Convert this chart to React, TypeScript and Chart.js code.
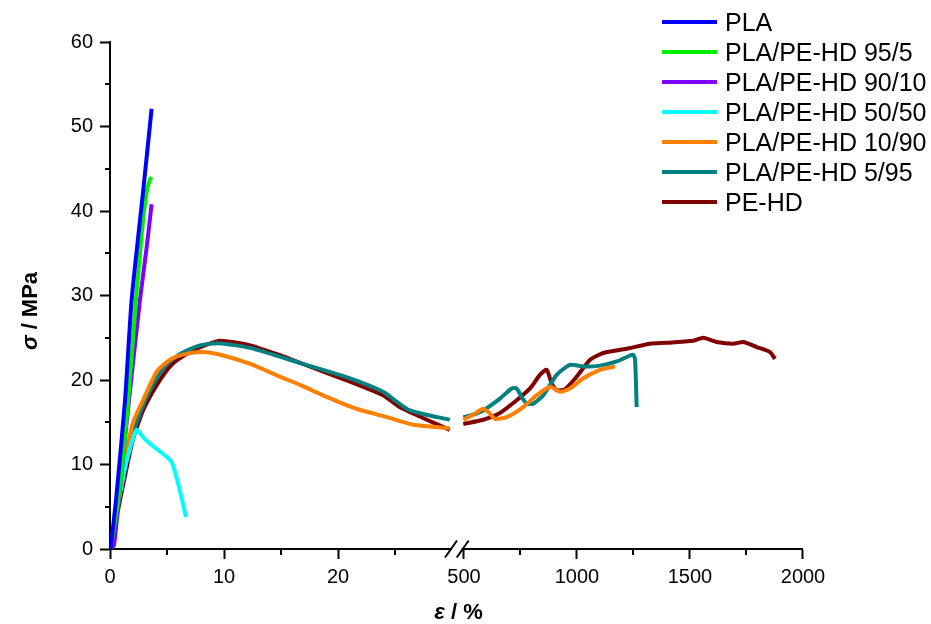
import React, { useEffect, useRef } from "react";
import { Chart, registerables } from "chart.js";

Chart.register(...registerables);

const FONT = "'Liberation Sans', Arial, Helvetica, sans-serif";

// ---- series ----
const seriesNames = [
  "PLA",
  "PLA/PE-HD 95/5",
  "PLA/PE-HD 90/10",
  "PLA/PE-HD 50/50",
  "PLA/PE-HD 10/90",
  "PLA/PE-HD 5/95",
  "PE-HD",
];
const seriesColors = ["#0000ff", "#00ee00", "#8000ff", "#00ffff", "#ff8000", "#008080", "#800000"];

// ---- left segment (strain 0–30 %) ----
const plaStrain = [0.05, 0.53, 1.32, 1.9, 2.92, 3.65];
const plaStress = [0, 5.8, 17.6, 29.5, 42.5, 52.1];

const pe95Strain = [0.05, 0.73, 1.6, 2.28, 2.87, 3.22, 3.51, 3.65];
const pe95Stress = [0, 5.8, 17.6, 29.5, 38.5, 42.3, 43.75, 44.0];

const pe90Strain = [0.1, 0.35, 0.6, 1.5, 2.63, 3.2, 3.65];
const pe90Stress = [0, 0.5, 3.5, 15.5, 29.5, 35.5, 40.8];

const pe50Strain = [0, 0.6, 1.3, 2.0, 2.34, 3.0, 3.65, 5.4, 6.67];
const pe50Stress = [0, 4.5, 9.5, 13.0, 14.1, 13.1, 12.3, 10.3, 3.8];

const pe10Strain = [0, 0.5, 1.0, 2.0, 2.9, 4.1, 5.26, 6.4, 7.9, 9.5, 12.3, 14.9, 16.7, 19.0, 21.6, 24.3, 26.6, 29.8];
const pe10Stress = [0, 4.0, 8.3, 14.9, 17.6, 21.0, 22.4, 23.0, 23.3, 23.05, 21.9, 20.4, 19.4, 18.0, 16.6, 15.6, 14.7, 14.3];

const pe5Strain = [0, 0.5, 1.0, 2.0, 3.0, 4.0, 5.0, 6.3, 7.9, 9.5, 12.3, 16.7, 21.05, 23.95, 26.3, 29.8];
const pe5Stress = [0, 3.8, 7.5, 13.5, 17.3, 20.0, 21.9, 23.2, 24.1, 24.35, 23.8, 22.0, 20.2, 18.6, 16.4, 15.3];

const pehdStrain = [0, 0.4, 0.88, 2.0, 2.9, 4.1, 5.4, 7.0, 8.3, 9.65, 12.3, 15.2, 17.5, 21.05, 23.95, 25.4, 27.8, 29.8];
const pehdStress = [0, 2.5, 5.8, 12.9, 16.4, 19.4, 21.8, 23.3, 24.1, 24.65, 24.1, 22.8, 21.6, 19.8, 18.2, 16.8, 15.3, 14.1];

// ---- right segment (strain 500–2000 %) ----
const pe10StrainHigh = [497, 540, 585, 608, 637, 689, 762, 822, 881, 925, 969, 1028, 1102, 1168];
const pe10StressHigh = [15.3, 15.9, 16.6, 16.2, 15.4, 15.6, 16.8, 18.2, 19.2, 18.6, 19.0, 20.2, 21.2, 21.6];

const pe5StrainHigh = [497, 540, 585, 659, 711, 733, 755, 777, 807, 851, 910, 969, 1028, 1102, 1176, 1235, 1249, 1257, 1264];
const pe5StressHigh = [15.6, 15.9, 16.4, 17.8, 19.0, 19.0, 18.0, 17.2, 17.2, 18.2, 20.6, 21.8, 21.6, 21.7, 22.2, 22.9, 23.0, 22.4, 16.8];

const pehdStrainHigh = [497, 585, 659, 733, 792, 836, 866, 888, 910, 947, 999, 1058, 1116, 1220, 1323, 1397, 1515, 1559, 1618, 1692, 1736, 1795, 1854, 1876];
const pehdStressHigh = [14.8, 15.3, 16.1, 17.6, 19.0, 20.6, 21.2, 19.6, 18.8, 18.9, 20.4, 22.4, 23.2, 23.7, 24.3, 24.4, 24.65, 25.0, 24.5, 24.3, 24.5, 23.9, 23.3, 22.5];

const leftStrain = [plaStrain, pe95Strain, pe90Strain, pe50Strain, pe10Strain, pe5Strain, pehdStrain];
const leftStress = [plaStress, pe95Stress, pe90Stress, pe50Stress, pe10Stress, pe5Stress, pehdStress];
const rightSeriesIndex = [4, 5, 6];
const rightStrain = [pe10StrainHigh, pe5StrainHigh, pehdStrainHigh];
const rightStress = [pe10StressHigh, pe5StressHigh, pehdStressHigh];

// ---- axes ----
const yRange = [0, 60];
const yTicks = [0, 10, 20, 30, 40, 50, 60];
const yMinorTicks = [5, 15, 25, 35, 45, 55];
const xLeftRange = [0, 30];
const xLeftTicks = [0, 10, 20];
const xLeftMinorTicks = [5, 15, 25];
const xRightRange = [447, 2000];
const xRightTicks = [500, 1000, 1500, 2000];
const xRightMinorTicks = [750, 1250, 1750];
const xRightBreakEnd = 490;

const toPoints = (xs: number[], ys: number[]) => xs.map((x, i) => ({ x, y: ys[i] }));

const tickFont = { family: FONT, size: 20 };

function axisBase(ticks: number[], padding: number) {
  return {
    type: "linear" as const,
    afterBuildTicks: (s: any) => {
      s.ticks = ticks.map((v) => ({ value: v }));
    },
    ticks: {
      font: tickFont,
      color: "#000",
      autoSkip: false,
      maxRotation: 0,
      padding,
      callback: (v: any) => String(v),
    },
    grid: { drawOnChartArea: false, drawTicks: true, tickLength: 10, tickColor: "#000", tickWidth: 2 },
    border: { display: true, color: "#000", width: 2 },
  };
}

const decorPlugin = {
  id: "decor",
  afterDraw(chart: any) {
    const ctx: CanvasRenderingContext2D = chart.ctx;
    const area = chart.chartArea;
    const y = chart.scales.y;
    const xL = chart.scales.xL;
    const xR = chart.scales.xR;
    ctx.save();
    ctx.strokeStyle = "#000";
    ctx.lineWidth = 2;
    // minor ticks
    ctx.beginPath();
    yMinorTicks.forEach((v) => {
      const p = Math.round(y.getPixelForValue(v));
      ctx.moveTo(area.left - 5, p);
      ctx.lineTo(area.left, p);
    });
    xLeftMinorTicks.forEach((v) => {
      const p = Math.round(xL.getPixelForValue(v));
      ctx.moveTo(p, area.bottom);
      ctx.lineTo(p, area.bottom + 6);
    });
    xRightMinorTicks.forEach((v) => {
      const p = Math.round(xR.getPixelForValue(v));
      ctx.moveTo(p, area.bottom);
      ctx.lineTo(p, area.bottom + 6);
    });
    ctx.stroke();
    // axis break
    const b0 = xL.getPixelForValue(xLeftRange[1]);
    const b1 = xR.getPixelForValue(xRightBreakEnd);
    ctx.fillStyle = "#fff";
    ctx.fillRect(b0, area.bottom - 3, b1 - b0, 6);
    ctx.beginPath();
    [b0 - 1, b1 + 1].forEach((cx) => {
      ctx.moveTo(cx - 6, area.bottom + 8.5);
      ctx.lineTo(cx + 6, area.bottom - 8.5);
    });
    ctx.stroke();

    // axis titles (σ and ε italic)
    const drawTitle = (greek: string, rest: string, cx: number, cy: number, rot: number) => {
      ctx.save();
      ctx.translate(cx, cy);
      ctx.rotate(rot);
      ctx.fillStyle = "#000";
      ctx.textBaseline = "middle";
      ctx.textAlign = "left";
      const gFont = `italic bold 22px ${FONT}`;
      const rFont = `bold 22px ${FONT}`;
      ctx.font = gFont;
      const gw = ctx.measureText(greek).width;
      ctx.font = rFont;
      const rw = ctx.measureText(rest).width;
      const start = -(gw + rw) / 2;
      ctx.font = gFont;
      ctx.fillText(greek, start, 0);
      ctx.font = rFont;
      ctx.fillText(rest, start + gw, 0);
      ctx.restore();
    };
    drawTitle("σ", " / MPa", 31, 311, -Math.PI / 2);
    drawTitle("ε", " / %", (area.left + area.right) / 2 + 2, 613, 0);
    ctx.restore();
  },
};

export default function App() {
  const canvasRef = useRef<HTMLCanvasElement | null>(null);

  useEffect(() => {
    if (!canvasRef.current) return;
    const lineStyle = (color: string) => ({
      borderColor: color,
      backgroundColor: color,
      borderWidth: 4,
      pointRadius: 0,
      showLine: true,
      tension: 0.2,
      fill: false,
    });
    const datasets: any[] = [];
    seriesNames.forEach((name, i) => {
      datasets.push({
        label: name,
        data: toPoints(leftStrain[i], leftStress[i]),
        xAxisID: "xL",
        yAxisID: "y",
        ...lineStyle(seriesColors[i]),
      });
    });
    rightSeriesIndex.forEach((si, k) => {
      datasets.push({
        label: seriesNames[si],
        data: toPoints(rightStrain[k], rightStress[k]),
        xAxisID: "xR",
        yAxisID: "y",
        ...lineStyle(seriesColors[si]),
      });
    });

    const chart = new Chart(canvasRef.current, {
      type: "scatter",
      data: { datasets },
      options: {
        animation: false,
        responsive: true,
        maintainAspectRatio: false,
        layout: { padding: { left: 40, right: 128, top: 42, bottom: 30 } },
        plugins: { legend: { display: false }, tooltip: { enabled: false } },
        scales: {
          y: {
            ...axisBase(yTicks, 7),
            position: "left",
            min: yRange[0],
            max: yRange[1],
            afterFit: (s: any) => {
              s.width = 70;
            },
          },
          xL: {
            ...axisBase(xLeftTicks, 6),
            position: "bottom",
            stack: "x",
            stackWeight: (xLeftRange[1] - xLeftRange[0]) * 11.4,
            min: xLeftRange[0],
            max: xLeftRange[1],
            afterFit: (s: any) => {
              s.height = 45;
            },
          },
          xR: {
            ...axisBase(xRightTicks, 6),
            position: "bottom",
            stack: "x",
            stackWeight: (xRightRange[1] - xRightRange[0]) * 0.226,
            min: xRightRange[0],
            max: xRightRange[1],
            afterFit: (s: any) => {
              s.height = 45;
            },
          },
        } as any,
      },
      plugins: [decorPlugin],
    });
    return () => chart.destroy();
  }, []);

  return (
    <div style={{ position: "absolute", left: 0, top: 0, width: 931, height: 624, background: "#fff" }}>
      <canvas ref={canvasRef} style={{ display: "block" }} />
      <div style={{ position: "absolute", left: 662, top: 7, fontFamily: FONT, fontSize: 25, color: "#000" }}>
        {seriesNames.map((name, i) => (
          <div key={name} style={{ display: "flex", alignItems: "center", height: 30, whiteSpace: "nowrap" }}>
            <span style={{ display: "inline-block", width: 55, height: 4, background: seriesColors[i], marginRight: 8 }} />
            <span>{name}</span>
          </div>
        ))}
      </div>
    </div>
  );
}
